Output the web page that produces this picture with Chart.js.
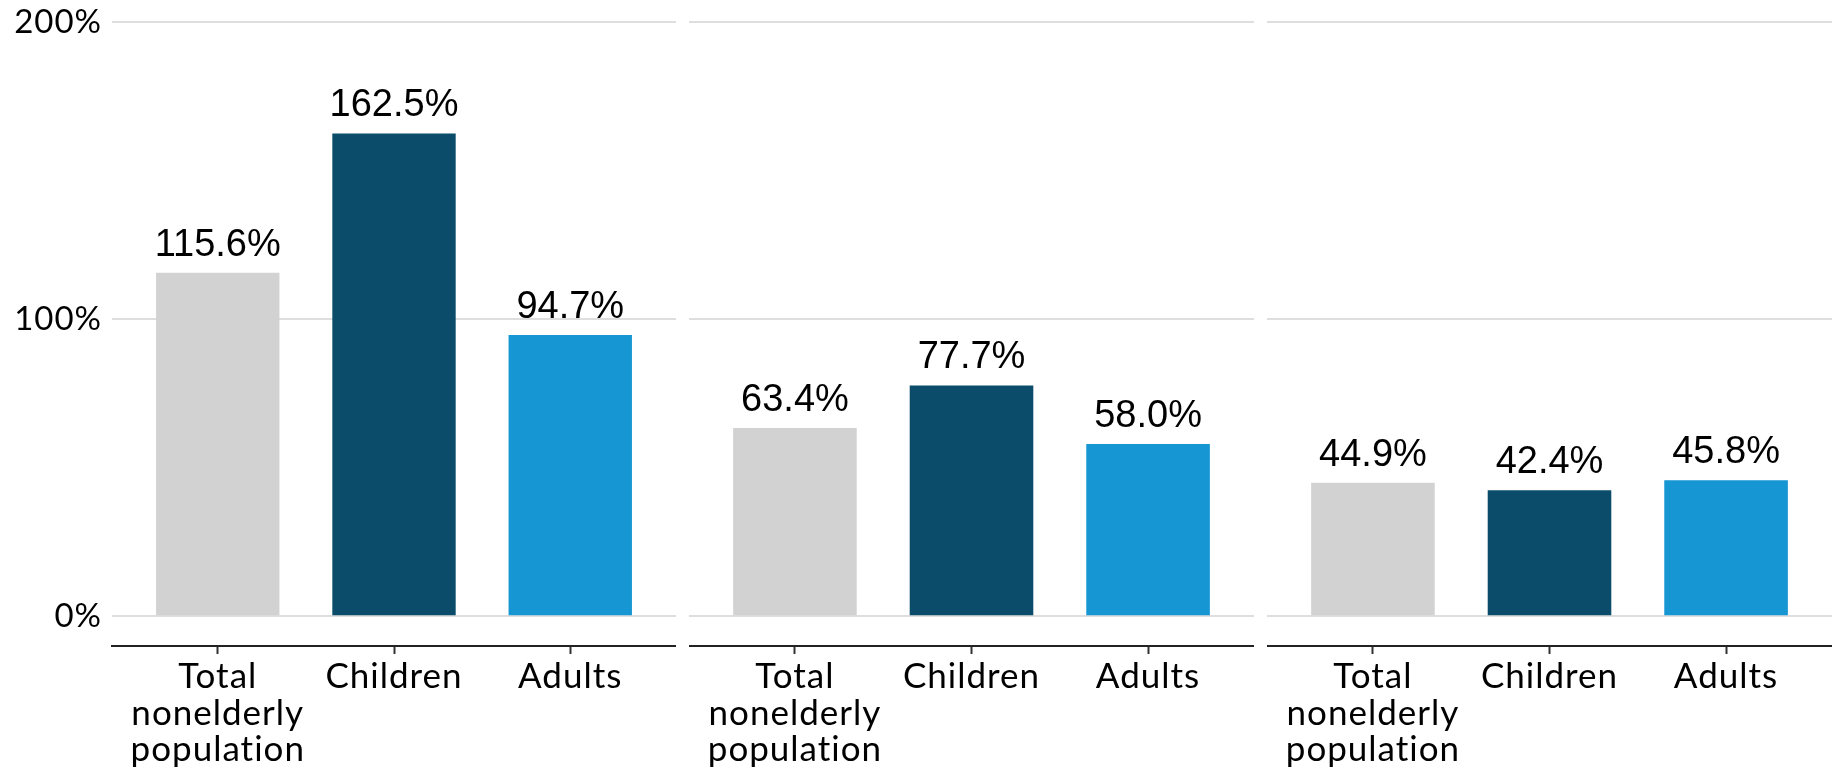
<!DOCTYPE html>
<html>
<head>
<meta charset="utf-8">
<script src="https://cdn.jsdelivr.net/npm/chart.js@4"></script>
<style>
  html, body { margin: 0; padding: 0; background: #ffffff; }
  #wrap { position: relative; width: 1837px; height: 771px; overflow: hidden; background: #fff; }
  canvas { position: absolute; top: 0; }
</style>
</head>
<body>
<div id="wrap">
  <canvas id="c1" width="676" height="771" style="left:0px"></canvas>
  <canvas id="c2" width="565" height="771" style="left:689px"></canvas>
  <canvas id="c3" width="565" height="771" style="left:1267px"></canvas>
</div>
<script>
// ---- Data ----
const categories = ["Total nonelderly population", "Children", "Adults"];
const categoryLabels = [["Total", "nonelderly", "population"], ["Children"], ["Adults"]];
const panel1Values = [115.6, 162.5, 94.7];
const panel2Values = [63.4, 77.7, 58.0];
const panel3Values = [44.9, 42.4, 45.8];
const yTicks = [0, 100, 200];
const barColors = ["#d2d2d2", "#0a4c6a", "#1696d2"];

// ---- Rendering ----
const spacing = {
  id: "spacing",
  beforeDraw(chart) { chart.ctx.letterSpacing = "1px"; }
};

const valueLabels = {
  id: "valueLabels",
  afterDatasetsDraw(chart) {
    const ctx = chart.ctx;
    const ds = chart.data.datasets[0];
    const meta = chart.getDatasetMeta(0);
    ctx.save();
    ctx.letterSpacing = "0px";
    ctx.font = "38px 'Liberation Sans', Arial, sans-serif";
    ctx.fillStyle = "#000";
    ctx.textAlign = "center";
    ctx.textBaseline = "alphabetic";
    meta.data.forEach((bar, i) => {
      ctx.fillText(ds.data[i].y.toFixed(1) + "%", bar.x, bar.y - 17);
    });
    ctx.restore();
  }
};

function makeChart(id, values, showY) {
  const data = values.map((v, i) => ({ x: i, y: v }));
  return new Chart(document.getElementById(id), {
    type: "bar",
    data: {
      datasets: [{
        data: data,
        backgroundColor: barColors,
        borderWidth: 0,
        barPercentage: 0.7,
        categoryPercentage: 1.0
      }]
    },
    options: {
      responsive: false,
      animation: false,
      events: [],
      layout: { padding: { top: 22, left: 0, right: 0, bottom: 0 } },
      plugins: { legend: { display: false }, tooltip: { enabled: false } },
      scales: {
        x: {
          type: "linear",
          position: "bottom",
          offset: false,
          min: -0.6,
          max: 2.6,
          afterBuildTicks(scale) {
            scale.ticks = categories.map((c, i) => ({ value: i }));
          },
          afterFit(scale) {
            scale.height = 125;
            scale.paddingLeft = 0; scale.paddingRight = 0;
          },
          grid: {
            offset: false,
            drawOnChartArea: false,
            drawTicks: true,
            tickLength: 8,
            tickWidth: 2,
            tickColor: "#333333"
          },
          border: { display: true, color: "#222222", width: 2 },
          ticks: {
            autoSkip: false,
            maxRotation: 0,
            padding: 5,
            color: "#000",
            font: { family: "Lato", size: 35, lineHeight: 1.04 },
            callback: (v) => categoryLabels[v]
          }
        },
        y: {
          min: -10,
          max: 200,
          afterBuildTicks(scale) {
            scale.ticks = yTicks.map(v => ({ value: v }));
          },
          afterFit(scale) {
            scale.width = showY ? 112 : 0;
            scale.paddingTop = 0; scale.paddingBottom = 0;
          },
          grid: { color: "#dedede", lineWidth: 2, drawTicks: false },
          border: { display: false },
          ticks: {
            display: showY,
            padding: 10,
            color: "#000",
            font: { family: "Lato", size: 33 },
            callback: (v) => v + "%"
          }
        }
      }
    },
    plugins: [spacing, valueLabels]
  });
}

makeChart("c1", panel1Values, true);
makeChart("c2", panel2Values, false);
makeChart("c3", panel3Values, false);
</script>
</body>
</html>
